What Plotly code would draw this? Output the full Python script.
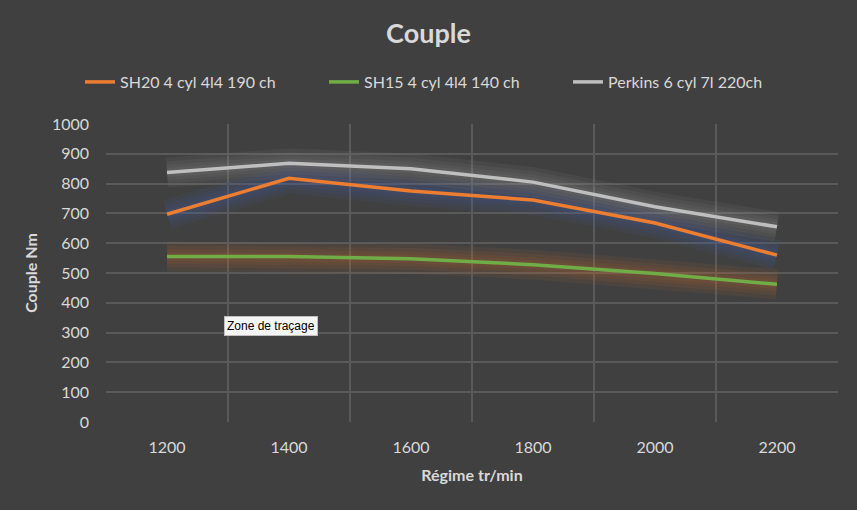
import plotly.graph_objects as go

regime = [1200, 1400, 1600, 1800, 2000, 2200]
sh20 = [697, 818, 775, 745, 668, 560]
sh15 = [555, 555, 548, 528, 498, 462]
perkins = [837, 868, 850, 805, 722, 655]

names = ["SH20 4 cyl 4l4 190 ch", "SH15 4 cyl 4l4 140 ch", "Perkins 6 cyl 7l 220ch"]
colors = ["#ED7D31", "#70AD47", "#BFBFBF"]
glows = ["rgba(70,105,175,0.09)", "rgba(200,110,45,0.09)", "rgba(170,170,170,0.08)"]
series = [sh20, sh15, perkins]

fig = go.Figure()
# soft glow underlays
for s, g in zip(series, glows):
    for w in (30, 22, 15, 9):
        fig.add_trace(go.Scatter(x=regime, y=s, mode="lines", showlegend=False,
                                 hoverinfo="skip",
                                 line=dict(color=g, width=w)))
for s, n, c in zip(series, names, colors):
    fig.add_trace(go.Scatter(x=regime, y=s, mode="lines", name=n,
                             line=dict(color=c, width=3.5)))

font = "Lato, 'Open Sans', sans-serif"
fig.update_layout(
    width=857, height=510,
    paper_bgcolor="#404040", plot_bgcolor="#404040",
    margin=dict(l=106, r=19, t=124, b=88),
    font=dict(family=font, color="#D9D9D9", size=16),
    title=dict(text="<b>Couple</b>", x=0.5, xref="container", xanchor="center",
               y=0.935, yref="container", yanchor="middle",
               font=dict(size=27, color="#D9D9D9")),
    legend=dict(orientation="h", x=80/857, xref="container", xanchor="left",
                y=1 - 82/510, yref="container", yanchor="middle",
                font=dict(size=16, color="#D9D9D9"), bgcolor="rgba(0,0,0,0)",
                entrywidth=199, entrywidthmode="pixels"),
    xaxis=dict(range=[1100, 2300], tickvals=regime, ticktext=[str(v) for v in regime],
               showgrid=False, zeroline=False, showline=False, ticks="",
               ticklabelstandoff=14,
               tickfont=dict(size=16, color="#D9D9D9"),
               minor=dict(tickvals=[1100, 1300, 1500, 1700, 1900, 2100, 2300],
                          showgrid=True, gridcolor="#5A5A5A", gridwidth=1.5),
               title=dict(text="<b>Régime tr/min</b>", font=dict(size=16, color="#D9D9D9"),
                          standoff=14)),
    yaxis=dict(range=[0, 1000], dtick=100, showgrid=True, gridcolor="#5A5A5A",
               gridwidth=1.5, zeroline=False, showline=False, ticks="",
               ticklabelstandoff=16,
               tickfont=dict(size=16, color="#D9D9D9"),
               title=dict(text="<b>Couple Nm</b>", font=dict(size=16, color="#D9D9D9"),
                          standoff=10)),
    annotations=[dict(x=1293, y=322, xref="x", yref="y", xanchor="left", yanchor="middle",
                      text="Zone de traçage", showarrow=False,
                      font=dict(family="'Liberation Sans', Arial, sans-serif", size=12, color="#000000"),
                      bgcolor="#F5F5F5", bordercolor="#BFBFBF", borderwidth=1, borderpad=2)],
)
fig.write_html("out.html", config={"displayModeBar": False},
               post_script="document.body.style.margin='0';document.body.style.background='#404040';")
